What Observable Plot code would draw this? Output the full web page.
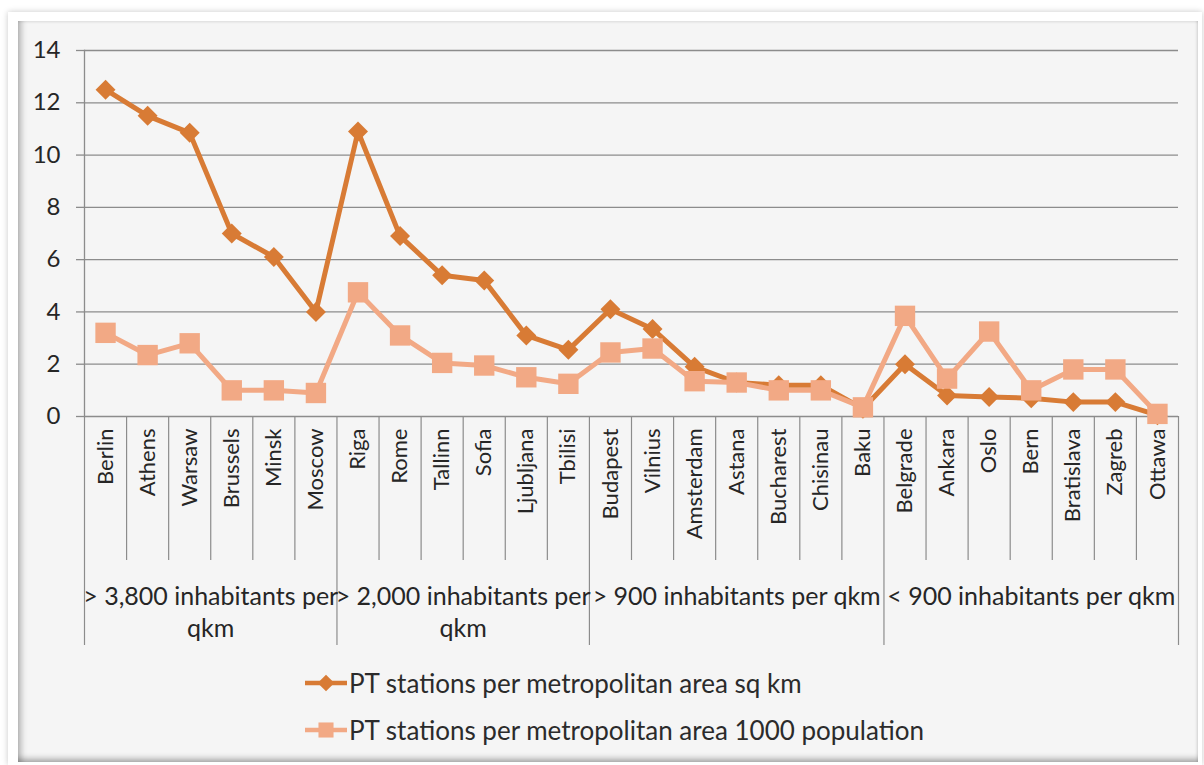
<!DOCTYPE html>
<html><head><meta charset="utf-8">
<script src="https://cdn.jsdelivr.net/npm/d3@7"></script>
<script src="https://cdn.jsdelivr.net/npm/@observablehq/plot@0.6"></script>
<style>
body{margin:0;background:#fff;width:1204px;height:765px;overflow:hidden;position:relative;font-family:Lato,sans-serif}
#outer{position:absolute;left:8px;top:12px;width:1194px;height:753px;background:#fff;box-shadow:0 0 6px rgba(0,0,0,0.22)}
#panel{position:absolute;left:18px;top:21px;width:1180px;height:741px;background:#f5f5f5;
 box-shadow: inset 7px 0 6px -4px rgba(0,0,0,0.28), inset 0 -7px 6px -4px rgba(0,0,0,0.32), inset -3px 0 3px -2px rgba(0,0,0,0.12), inset 0 3px 3px -2px rgba(0,0,0,0.08)}
#chart{position:absolute;left:0;top:0}
#legend{position:absolute;left:305px;top:667px;font-size:26px;color:#2b2b2b}
.item{display:flex;align-items:center;height:32px;margin-bottom:15px}
.item svg{margin-right:2px}
</style></head><body>
<div id="outer"></div><div id="panel"></div><div id="chart"></div><div id="legend"></div>
<script>
const cities = ["Berlin","Athens","Warsaw","Brussels","Minsk","Moscow","Riga","Rome","Tallinn","Sofia","Ljubljana","Tbilisi","Budapest","Vilnius","Amsterdam","Astana","Bucharest","Chisinau","Baku","Belgrade","Ankara","Oslo","Bern","Bratislava","Zagreb","Ottawa"];
const perSqKm = [12.5,11.5,10.85,7.0,6.1,4.0,10.9,6.9,5.4,5.2,3.1,2.55,4.1,3.35,1.9,1.3,1.2,1.2,0.3,2.0,0.8,0.75,0.7,0.55,0.55,0.05];
const perThousand = [3.2,2.35,2.8,1.0,1.0,0.9,4.75,3.1,2.05,1.95,1.5,1.25,2.45,2.6,1.35,1.3,1.0,1.0,0.35,3.85,1.45,3.25,1.0,1.8,1.8,0.1];
const groupLabels = ["> 3,800 inhabitants per\nqkm","> 2,000 inhabitants per\nqkm","> 900 inhabitants per qkm","< 900 inhabitants per qkm"];
const groupStarts = [0,6,12,19];
const yTicks = [0,2,4,6,8,10,12,14];
const seriesNames = ["PT stations per metropolitan area sq km","PT stations per metropolitan area 1000 population"];
const colors = ["#d87b35","#f2a985"];

const n = cities.length;
const rowsA = cities.map((c,i)=>({i, city:c, v:perSqKm[i]}));
const rowsB = cities.map((c,i)=>({i, city:c, v:perThousand[i]}));
const bounds = [...groupStarts.map(s=>s-0.5), n-0.5];
const inner = d3.range(n-1).map(i=>i+0.5).filter(b=>!bounds.includes(b));
const centers = groupStarts.map((s,k)=>(s + (k+1<groupStarts.length?groupStarts[k+1]:n) - 1)/2);
const grid = "#8c8c8c";

const chart = Plot.plot({
  width:1204, height:660, marginLeft:84, marginRight:26, marginTop:50, marginBottom:244,
  style:{background:"transparent", fontFamily:"Lato, sans-serif", color:"#262626"},
  x:{domain:[-0.5, n-0.5], axis:null, label:null},
  y:{domain:[0,14], axis:null, label:null},
  marks:[
    Plot.gridY(yTicks, {stroke:grid, strokeOpacity:1, strokeWidth:1.3}),
    Plot.axisY({ticks:yTicks, label:null, tickSize:8, tickPadding:16, fontSize:24, stroke:grid, strokeWidth:1.3}),
    Plot.frame({anchor:"left", stroke:grid, strokeWidth:1.3}),
    Plot.axisX({ticks:inner, label:null, tickSize:144, tickFormat:()=>"", stroke:grid, strokeWidth:1.2}),
    Plot.axisX({ticks:bounds, label:null, tickSize:229, tickFormat:()=>"", stroke:grid, strokeWidth:1.2}),
    Plot.axisX({ticks:d3.range(n), label:null, tickSize:0, tickPadding:12, tickRotate:-90, textAnchor:"end", tickFormat:i=>cities[i], fontSize:22}),
    Plot.axisX({ticks:centers, label:null, tickSize:0, tickPadding:166, lineAnchor:"top", lineHeight:1.28, tickFormat:(d,k)=>groupLabels[k], fontSize:25}),
    Plot.line(rowsA, {x:"i", y:"v", stroke:colors[0], strokeWidth:5}),
    Plot.dot(rowsA, {x:"i", y:"v", symbol:"diamond2", r:9, fill:colors[0]}),
    Plot.line(rowsB, {x:"i", y:"v", stroke:colors[1], strokeWidth:5}),
    Plot.dot(rowsB, {x:"i", y:"v", symbol:"square", r:11.5, fill:colors[1]})
  ]
});
document.getElementById("chart").appendChild(chart);

const sym = [d3.symbol(d3.symbolDiamond2, Math.PI*7.5*7.5)(), d3.symbol(d3.symbolSquare, Math.PI*8.5*8.5)()];
const legend = d3.select("#legend");
seriesNames.forEach((name,k)=>{
  const it = legend.append("div").attr("class","item");
  const s = it.append("svg").attr("width",42).attr("height",32);
  s.append("line").attr("x1",0).attr("x2",42).attr("y1",16).attr("y2",16).attr("stroke",colors[k]).attr("stroke-width",4.5);
  s.append("path").attr("d",sym[k]).attr("transform","translate(21,16)").attr("fill",colors[k]);
  it.append("span").text(name);
});
</script>
</body></html>
